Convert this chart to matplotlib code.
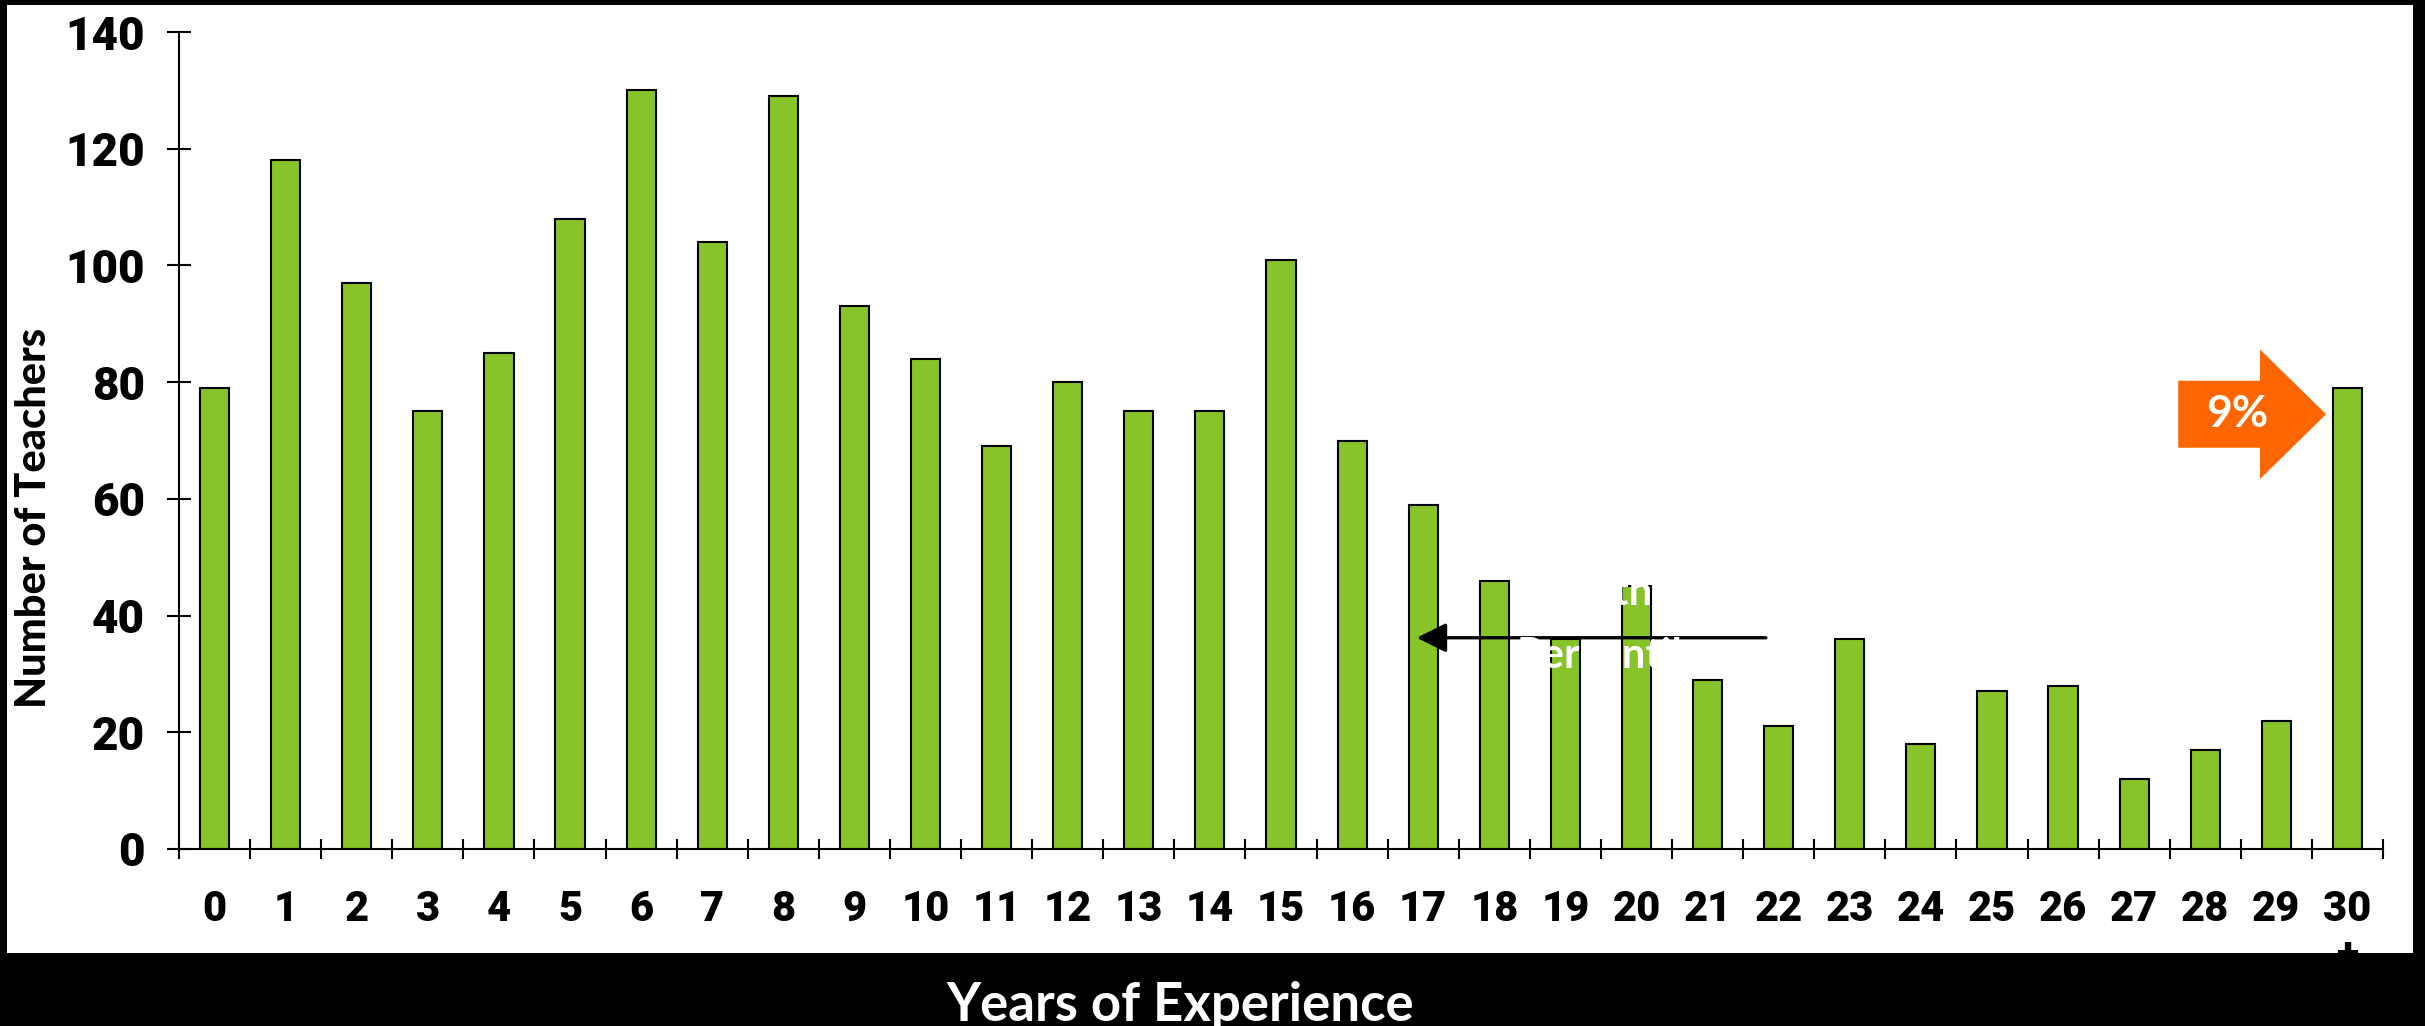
import matplotlib
matplotlib.use("Agg")
import matplotlib.pyplot as plt
from matplotlib.patches import Rectangle, Polygon
import numpy as np

# data
YEARS = [str(i) for i in range(30)] + ["30\n+"]
TEACHERS = [79, 118, 97, 75, 85, 108, 130, 104, 129, 93, 84, 69, 80, 75, 75, 101,
            70, 59, 46, 36, 45, 29, 21, 36, 18, 27, 28, 12, 17, 22, 79]
Y_TICKS = [0, 20, 40, 60, 80, 100, 120, 140]

BAR_GREEN = "#86C42A"
ORANGE = "#FF6600"
NUM_FONT = "Roboto"
LABEL_FONT = "Lato"

W, H, DPI = 2425, 1026, 100
fig = plt.figure(figsize=(W / DPI, H / DPI), dpi=DPI)
fig.patch.set_facecolor("black")

# white panel, black frame + band at the bottom
fig.patches.append(Rectangle((7 / W, 1 - 953 / H), (2413 - 7) / W, (953 - 5) / H,
                             transform=fig.transFigure, facecolor="white",
                             edgecolor="none", zorder=-1))

ax = fig.add_axes([179 / W, 1 - 849 / H, (2383 - 179) / W, (849 - 32) / H])
ax.set_facecolor("none")
x = np.arange(len(TEACHERS))
ax.bar(x, TEACHERS, width=0.41, color=BAR_GREEN, edgecolor="black", linewidth=1.5, zorder=2)

ax.set_xlim(-0.5, len(TEACHERS) - 0.5)
ax.set_ylim(0, 140)
for s in ("top", "right"):
    ax.spines[s].set_visible(False)
for s in ("left", "bottom"):
    ax.spines[s].set_linewidth(1.5)

ax.set_yticks(Y_TICKS)
ax.set_yticklabels([str(v) for v in Y_TICKS], fontfamily=NUM_FONT, fontweight=900, fontsize=33)
ax.tick_params(axis="y", direction="inout", length=17, width=1.5, pad=16)

ax.set_xticks(np.arange(len(TEACHERS) + 1) - 0.5)
ax.set_xticklabels([])
ax.tick_params(axis="x", which="major", direction="inout", length=15, width=1.5)
ax.set_xticks(x, minor=True)
ax.set_xticklabels(YEARS, minor=True, fontfamily=NUM_FONT, fontweight=900, fontsize=30,
                   va="top", linespacing=1.15)
ax.tick_params(axis="x", which="minor", length=0, pad=29)

# black arrow and the (mostly hidden) white note
ax.annotate("", xy=(16.91, 36.2), xytext=(21.82, 36.2),
            arrowprops=dict(arrowstyle="-|>,head_length=1.8,head_width=0.9",
                            color="black", lw=2.4, shrinkA=0, shrinkB=0),
            zorder=3)
ax.text(20.22, 41.8, "20th", color="white", fontfamily=LABEL_FONT, fontweight="bold",
        fontsize=30, ha="right", va="baseline", zorder=4)
ax.text(18.32, 31.0, "Percentile", color="white", fontfamily=LABEL_FONT, fontweight="bold",
        fontsize=30, ha="left", va="baseline", zorder=4)

# orange block arrow with 9%
body_l, body_r, tip = 27.62, 28.77, 29.70
yc, body_h, head_h = 74.5, 5.74, 11.1
ax.add_patch(Polygon([(body_l, yc - body_h), (body_r, yc - body_h), (body_r, yc - head_h),
                      (tip, yc), (body_r, yc + head_h), (body_r, yc + body_h),
                      (body_l, yc + body_h)], closed=True, facecolor=ORANGE,
                     edgecolor="none", zorder=3, clip_on=False))
ax.text(28.45, yc, "9%", color="white", fontfamily=LABEL_FONT, fontweight="bold",
        fontsize=32, ha="center", va="center", zorder=4)

fig.text(34 / W, 1 - 518 / H, "Number of Teachers", rotation=90, ha="center", va="center",
         fontfamily=LABEL_FONT, fontweight=900, fontsize=30, color="black")
fig.text(1180 / W, 1 - 1006 / H, "Years of Experience", ha="center", va="center",
         fontfamily=LABEL_FONT, fontweight="bold", fontsize=38, color="white")

fig.savefig("out.png", dpi=DPI, facecolor=fig.get_facecolor())
